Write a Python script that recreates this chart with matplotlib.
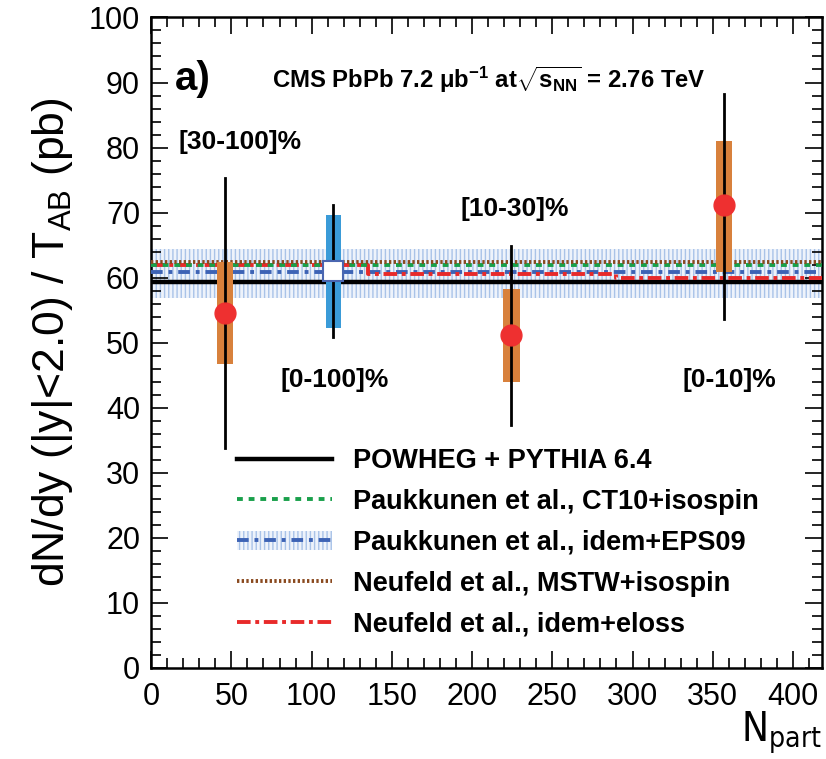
import matplotlib

matplotlib.use("Agg")
import matplotlib.pyplot as plt
from matplotlib import font_manager
from matplotlib.lines import Line2D
from matplotlib.patches import Patch
from matplotlib.ticker import MultipleLocator

# centrality-binned measurements: [30-100]%, [10-30]%, [0-10]%
npart = [46, 224.5, 357]
yield_ = [54.6, 51.2, 71.2]
stat_lo = [33.8, 37.4, 53.6]
stat_hi = [75.3, 64.9, 88.3]
syst_lo = [46.8, 43.9, 60.8]
syst_hi = [62.4, 58.3, 81.0]

# minimum-bias point [0-100]%
mb_npart = 113.5
mb_yield = 61.0
mb_stat = (50.8, 71.2)
mb_syst = (52.2, 69.7)

# theory curves (step edges in Npart)
edges = [0, 135, 290, 418]
powheg = [59.3, 59.3, 59.3]
ct10 = [62.0, 62.0, 62.0]
eps09 = [60.8, 60.8, 60.8]
eps09_lo = [56.8, 56.8, 56.8]
eps09_hi = [64.4, 64.4, 64.4]
mstw = [62.4, 62.4, 62.4]
eloss = [62.0, 60.6, 60.0]

labels = [
    "POWHEG + PYTHIA 6.4",
    "Paukkunen et al., CT10+isospin",
    "Paukkunen et al., idem+EPS09",
    "Neufeld et al., MSTW+isospin",
    "Neufeld et al., idem+eloss",
]

plt.rcParams["font.family"] = ["Liberation Sans", "DejaVu Sans"]
plt.rcParams["mathtext.fontset"] = "custom"
plt.rcParams["mathtext.rm"] = "Liberation Sans"
plt.rcParams["mathtext.bf"] = "Liberation Sans:bold"
plt.rcParams["mathtext.it"] = "Liberation Sans:italic"
plt.rcParams["hatch.linewidth"] = 1.0

ORANGE = "#d8813c"
SKY = "#3a9bd8"
RED = "#ee3030"

narrow = font_manager.FontProperties(family="DejaVu Sans", stretch="condensed", size=29)


def steps(vals):
    return edges, vals + [vals[-1]]


fig = plt.figure(figsize=(8.26, 7.59), dpi=100)
ax = fig.add_axes([0.183, 0.12, 0.812, 0.857])

# band for EPS09
bx, blo = steps(eps09_lo)
_, bhi = steps(eps09_hi)
ax.fill_between(bx, blo, bhi, step="post", facecolor="#eef3fb", edgecolor="#a9c3e8",
                hatch="||||", linewidth=0, zorder=1)

x, y = steps(powheg)
ax.step(x, y, where="post", color="black", lw=3.2, zorder=3)
x, y = steps(eps09)
ax.step(x, y, where="post", color="#3d63b5", lw=2.8, dashes=(3, 1.5, 1, 1.5), zorder=3)
x, y = steps(eloss)
ax.step(x, y, where="post", color="#e82a2a", lw=2.8, dashes=(3.5, 1.2, 1, 1.2), zorder=3)
x, y = steps(ct10)
ax.step(x, y, where="post", color="#19a04b", lw=2.8, dashes=(1.5, 1.5), zorder=3)
x, y = steps(mstw)
ax.step(x, y, where="post", color="#8a4a1f", lw=2.8, dashes=(0.6, 0.6), zorder=3)

# systematic boxes
for xi, lo, hi in zip(npart, syst_lo, syst_hi):
    ax.bar(xi, hi - lo, bottom=lo, width=10.5, color=ORANGE, zorder=4)
ax.bar(mb_npart, mb_syst[1] - mb_syst[0], bottom=mb_syst[0], width=9.5, color=SKY, zorder=4)

# statistical error bars
for xi, lo, hi in zip(npart, stat_lo, stat_hi):
    ax.plot([xi, xi], [lo, hi], color="black", lw=2, zorder=5)
ax.plot([mb_npart, mb_npart], mb_stat, color="black", lw=2, zorder=5)

ax.plot(npart, yield_, "o", color=RED, markersize=15, zorder=6)
ax.plot(mb_npart, mb_yield, "s", markerfacecolor="white", markeredgecolor="#4a66b0",
        markeredgewidth=1.5, markersize=15, zorder=6)

ax.set_xlim(0, 418)
ax.set_ylim(0, 100)
ax.xaxis.set_major_locator(MultipleLocator(50))
ax.xaxis.set_minor_locator(MultipleLocator(10))
ax.yaxis.set_major_locator(MultipleLocator(10))
ax.yaxis.set_minor_locator(MultipleLocator(2))
ax.tick_params(which="both", direction="in", top=True, right=True, width=1.2, color="black")
ax.tick_params(which="major", length=12)
ax.tick_params(which="minor", length=7)
ax.tick_params(axis="y", labelsize=22, pad=8)
ax.tick_params(axis="x", labelsize=22, pad=10)
for sp in ax.spines.values():
    sp.set_linewidth(1.8)

ax.set_ylabel(r"dN/dy (|y|<2.0) / T$_{\mathregular{AB}}$ (pb)", fontsize=32, labelpad=10)
fig.text(0.995, 0.004, r"N$_{\mathregular{part}}$", fontproperties=narrow,
         ha="right", va="bottom")

ax.text(15, 90.5, "a)", fontsize=29, fontweight="bold", va="center")
ax.text(75.5, 90.5, r"CMS PbPb 7.2 $\mathbf{\mu b^{-1}}$ at$\mathbf{\sqrt{s_{NN}}}$ = 2.76 TeV",
        fontsize=17.2, fontweight="bold", va="center")
ax.text(17, 80.9, "[30-100]%", fontsize=19, fontweight="bold", va="center")
ax.text(192.5, 70.5, "[10-30]%", fontsize=19, fontweight="bold", va="center")
ax.text(80.5, 44.3, "[0-100]%", fontsize=19, fontweight="bold", va="center")
ax.text(331, 44.3, "[0-10]%", fontsize=19, fontweight="bold", va="center")

handles = [
    Line2D([], [], color="black", lw=3.2),
    Line2D([], [], color="#19a04b", lw=2.8, dashes=(1.5, 1.5)),
    (Patch(facecolor="#eef3fb", edgecolor="#a9c3e8", hatch="||||", linewidth=0),
     Line2D([], [], color="#3d63b5", lw=2.8, dashes=(3, 1.5, 1, 1.5))),
    Line2D([], [], color="#8a4a1f", lw=2.8, dashes=(0.6, 0.6)),
    Line2D([], [], color="#e82a2a", lw=2.8, dashes=(3.5, 1.2, 1, 1.2)),
]
ax.legend(handles, labels, loc="upper left", bbox_to_anchor=(0.128, 0.338), frameon=False,
          prop={"weight": "bold", "size": 19.5}, handlelength=3.5, handletextpad=0.8,
          labelspacing=0.55, borderpad=0, borderaxespad=0)

fig.savefig("out.png", dpi=100)
